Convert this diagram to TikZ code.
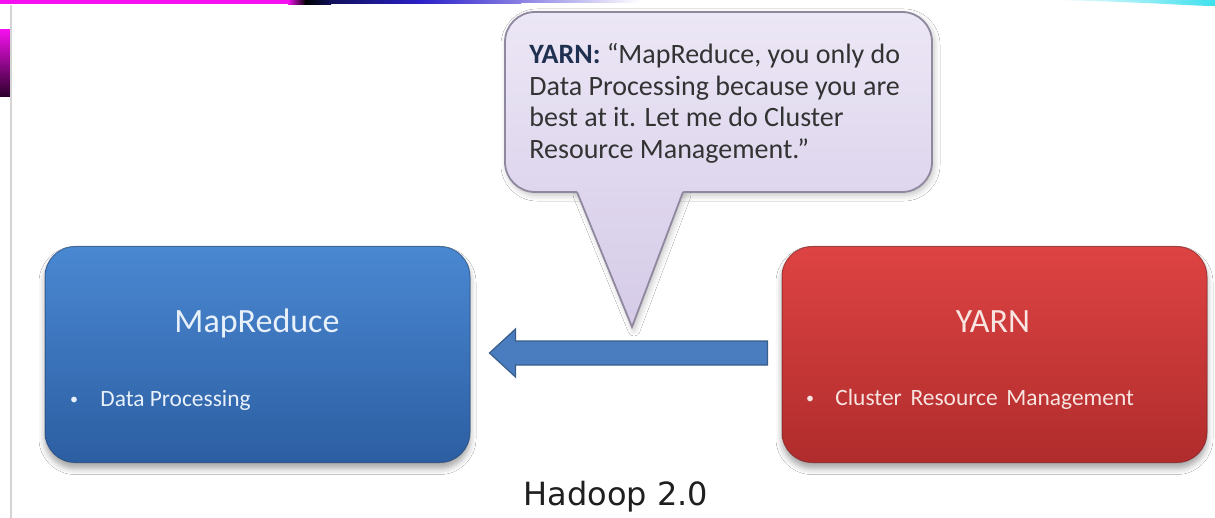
\documentclass[tikz,border=0pt]{standalone}
\usepackage{fontspec}
\setmainfont{Carlito}
\newfontfamily\labelfont{DejaVu Sans}
\usetikzlibrary{calc,shadows.blur}

% palette
\definecolor{mrtop}{HTML}{4A88D2}
\definecolor{mrbot}{HTML}{2C5EA2}
\definecolor{yntop}{HTML}{DE4343}
\definecolor{ynbot}{HTML}{B02C2C}
\definecolor{calltop}{HTML}{ECE7F6}
\definecolor{callbot}{HTML}{DED6ED}
\definecolor{calltip}{HTML}{D5CBE8}
\definecolor{callline}{HTML}{8F889E}
\definecolor{navy}{HTML}{1F3050}
\definecolor{speech}{HTML}{333333}
\definecolor{arrowfill}{HTML}{4A7DBF}
\definecolor{arrowline}{HTML}{385D8A}
\definecolor{edgegrey}{HTML}{D4D4D4}
\definecolor{mrtext}{HTML}{E8F0FA}
\definecolor{yntext}{HTML}{F8E4E0}
\definecolor{bandmag}{HTML}{F410F0}
\definecolor{bandnavy}{HTML}{10105A}
\definecolor{bandblue}{HTML}{2A20C8}
\definecolor{bandviolet}{HTML}{8A80E4}
\definecolor{bandcyan}{HTML}{3EE0EE}
\definecolor{sidetop}{HTML}{F410EC}
\definecolor{sidemid}{HTML}{B000B0}
\definecolor{sidebot}{HTML}{2A0028}

\tikzset{
  box/.style={rounded corners=15pt, minimum width=212.5pt, minimum height=108pt,
    inner sep=0pt, draw opacity=0.6, line width=0.5pt,
    blur shadow={shadow xshift=0pt, shadow yshift=-3pt,
      shadow blur radius=3pt, shadow opacity=35}},
  title/.style={font=\fontsize{17}{20}\selectfont, anchor=base, inner sep=0pt},
  item/.style={font=\fontsize{11.7}{14}\selectfont, anchor=base west, inner sep=0pt},
  dot/.style={font=\fontsize{8}{10}\selectfont, anchor=base, inner sep=0pt},
  bubble/.style={rounded corners=15pt, minimum width=213.5pt, minimum height=90pt,
    inner sep=0pt, draw=callline, line width=0.9pt,
    top color=calltop, bottom color=callbot,
    blur shadow={shadow xshift=1pt, shadow yshift=-1.5pt,
      shadow blur radius=3pt, shadow opacity=25}},
  blockarrow/.style={fill=arrowfill, draw=arrowline, line width=0.6pt,
    line join=miter},
}

\begin{document}
\begin{tikzpicture}[x=0.5pt, y=-0.5pt]
  \fill[white] (0,0) rectangle (1215,518);
  \useasboundingbox (0,0) rectangle (1215,518);

  % header strip: magenta, through black and navy, fading into white
  \fill[bandmag] (0,0) rectangle (289,4.5);
  \path[left color=bandmag, right color=black] (288,0) rectangle (306,4.5);
  \path[left color=black, right color=bandnavy] (305,0) rectangle (331,4.5);
  \path[left color=bandnavy, right color=bandblue] (330,0) rectangle (421,4);
  \path[left color=bandblue, right color=bandviolet] (420,0) rectangle (521,3.5);
  \path[left color=bandviolet, right color=white] (520,0) rectangle (640,3);
  \path[left color=white, right color=bandcyan] (1050,0)
    .. controls (1150,2) and (1190,6) .. (1215,6) -- (1215,0) -- cycle;
  \path[top color=sidetop, middle color=sidemid, bottom color=sidebot]
    (0,30) rectangle (10,97);
  \draw[edgegrey, line width=0.8pt] (11,5) -- (11,518);

  % the two components
  \node[box, draw=mrbot!70!black, top color=mrtop, bottom color=mrbot]
    (mr) at (257.5,354.5) {};
  \node[box, draw=ynbot!70!black, top color=yntop, bottom color=ynbot]
    (yn) at (994.5,354.5) {};

  \node[title, text=mrtext] (mrtitle) at (257,332) {MapReduce};
  \node[dot, text=mrtext] (mrdot) at (74,404.5) {•};
  \node[item, text=mrtext] (mritem) at (100,406.5) {Data Processing};

  \node[title, text=yntext] (yntitle) at (993,332) {YARN};
  \node[dot, text=yntext] (yndot) at (810,403.5) {•};
  \node[item, text=yntext] (ynitem) at (835,405.5)
    {Cluster\hspace{0.15em} Resource\hspace{0.15em} Management};

  % block arrow from YARN to MapReduce
  \coordinate (a1) at ($(yn.west)+(-14,-1.5)$);
  \coordinate (a2) at ($(mr.east)+(19,-1.5)$);
  \draw[blockarrow] (a2) -- ++(26,-24) -- ++(0,12) -- ($(a1)+(0,-12)$)
    -- ($(a1)+(0,12)$) -- ($(a2)+(26,12)$) -- ++(0,12) -- cycle;

  % speech bubble
  \coordinate (bubblecentre) at (718.5,102);
  \coordinate (pl) at (577,192);
  \coordinate (pr) at (683,192);
  \coordinate (ptip) at (632,327);
  \path[blur shadow={shadow xshift=1pt, shadow yshift=-1.5pt,
      shadow blur radius=3pt, shadow opacity=25}]
    (pl) -- (ptip) -- (pr) -- cycle;
  \node[bubble] (call) at (bubblecentre) {};
  \path[top color=callbot, bottom color=calltip]
    ($(pl)+(-0.8,-2.5)$) -- ($(pr)+(0.9,-2.5)$) -- (ptip) -- cycle;
  \draw[callline, line width=0.9pt, line join=miter] (pl) -- (ptip) -- (pr);

  \node[anchor=north west, inner sep=0pt, align=left, text=speech,
    font=\fontsize{14}{15.75}\selectfont] (calltext) at (529,43)
    {\textbf{\color{navy}YARN:} “MapReduce, you only do\\
     Data Processing because you are\\
     best at it. Let me do Cluster\\
     Resource Management.”};

  % caption
  \node[anchor=base, inner sep=0pt, text=black!88,
    font=\labelfont\fontsize{16}{19}\selectfont] (hadoop) at (616,505)
    {Hadoop 2.0};
\end{tikzpicture}
\end{document}
